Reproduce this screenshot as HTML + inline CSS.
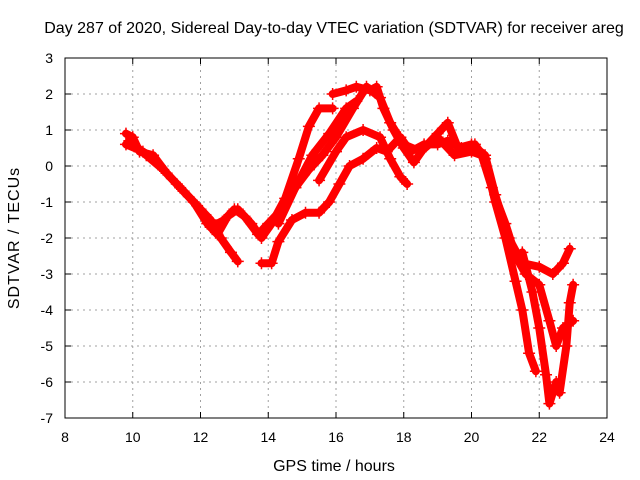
<!DOCTYPE html>
<html><head><meta charset="utf-8"><style>
body{margin:0;background:#fff}
svg{display:block;font-family:"Liberation Sans",sans-serif}
</style></head><body>
<svg id="chart" width="640" height="480">
<text x="334" y="33" font-size="16" text-anchor="middle">Day 287 of 2020, Sidereal Day-to-day VTEC variation (SDTVAR) for receiver areg</text>
<text x="334" y="471" font-size="16" text-anchor="middle">GPS time / hours</text>
<text transform="translate(19,238) rotate(-90)" font-size="16" text-anchor="middle" letter-spacing="1">SDTVAR / TECUs</text>
<g id="grid"></g><g id="ticks"></g><g id="marks"></g>
<rect x="65" y="58" width="542" height="360" fill="none" stroke="#000" stroke-width="1"/>
</svg>
<script>
const xTicks=[8,10,12,14,16,18,20,22,24];
const yTicks=[3,2,1,0,-1,-2,-3,-4,-5,-6,-7];
const s1h=[9.8,10.0,10.2,10.6,11.0,11.5,12.0,12.3,12.6,12.9,13.1];
const s1v=[0.9,0.8,0.4,0.3,-0.2,-0.7,-1.2,-1.5,-2.0,-2.4,-2.65];
const s2h=[9.8,10.3,10.8,11.3,11.8,12.2,12.5,12.8,13.1,13.5,13.8,14.1,14.5,14.9,15.2,15.5,15.9];
const s2v=[0.6,0.4,0.0,-0.5,-1.0,-1.6,-1.9,-1.4,-1.2,-1.6,-2.0,-1.6,-0.9,0.2,1.1,1.6,1.6];
const s3h=[9.9,10.4,10.9,11.4,11.9,12.3,12.7,13.0,13.3,13.7,14.0,14.4,14.8,15.2,15.6,16.0,16.5,16.9,17.3,17.6,18.0,18.5,19.0,19.5,20.0,20.3,20.6,21.0,21.3,21.6,22.0,22.3,22.5,22.7,23.0];
const s3v=[0.7,0.3,-0.1,-0.6,-1.1,-1.7,-1.5,-1.2,-1.4,-1.9,-1.6,-1.2,-0.6,-0.1,0.3,0.8,1.6,2.2,1.9,1.2,0.6,0.4,0.8,0.3,0.4,0.3,-0.6,-1.6,-2.5,-3.0,-3.3,-4.3,-5.0,-4.5,-4.3];
const s4h=[13.8,14.1,14.3,14.7,15.1,15.5,15.8,16.1,16.4,16.8,17.2,17.5,17.9,18.2,18.6,19.0,19.3,19.7,20.1,20.4,20.7,21.0,21.3,21.5,21.7,21.9];
const s4v=[-2.7,-2.7,-2.1,-1.5,-1.3,-1.3,-1.0,-0.5,0.0,0.2,0.5,0.4,0.8,0.4,0.6,0.6,0.7,0.5,0.6,0.2,-1.0,-2.0,-3.2,-4.0,-5.2,-5.7];
const s5h=[15.9,16.3,16.6,17.0,17.2,17.4,17.7,18.0,18.3,18.6,19.0,19.3,19.6,20.0,20.4,20.7,21.1,21.5,22.0,22.4,22.7,22.9];
const s5v=[2.0,2.1,2.2,2.1,2.2,1.6,1.0,0.5,0.1,0.5,0.9,1.2,0.5,0.6,0.3,-0.8,-2.0,-2.7,-2.8,-3.0,-2.7,-2.3];
const s6h=[14.3,14.8,15.3,15.8,16.3,16.6];
const s6v=[-1.6,-0.6,0.3,0.9,1.6,1.8];
const s7h=[15.5,16.0,16.3,16.8,17.3,17.6,17.9,18.1];
const s7v=[-0.4,0.4,0.8,1.0,0.8,0.2,-0.3,-0.5];
const s8h=[21.5,21.8,22.0,22.2,22.3,22.5,22.6,22.8,22.9,23.0];
const s8v=[-2.4,-3.5,-4.5,-5.8,-6.6,-6.0,-6.3,-5.0,-3.8,-3.3];
const series=[[s1h,s1v],[s2h,s2v],[s3h,s3v],[s4h,s4v],[s5h,s5v],[s6h,s6v],[s7h,s7v],[s8h,s8v]];
const X=h=>65+(h-8)*542/16;
const Y=v=>58+(3-v)*36;
const NS="http://www.w3.org/2000/svg";
function mk(t,a,p){const e=document.createElementNS(NS,t);for(const k in a)e.setAttribute(k,a[k]);p.appendChild(e);return e;}
const grid=document.getElementById('grid'),ticks=document.getElementById('ticks'),marks=document.getElementById('marks');
xTicks.forEach(t=>{
  if(t>8&&t<24){const g=mk('line',{x1:X(t),x2:X(t),y1:58,y2:418,stroke:'#a0a0a0','stroke-dasharray':'2,4'},grid);
  
  }
  mk('line',{x1:X(t),x2:X(t),y1:418,y2:412,stroke:'#000'},ticks);
  mk('line',{x1:X(t),x2:X(t),y1:58,y2:64,stroke:'#000'},ticks);
  const l=mk('text',{x:X(t),y:442,'font-size':14,'text-anchor':'middle'},ticks);l.textContent=t;
  
  
});
yTicks.forEach(t=>{
  if(t<3&&t>-7){const g=mk('line',{x1:65,x2:607,y1:Y(t),y2:Y(t),stroke:'#a0a0a0','stroke-dasharray':'2,4'},grid);
  
  }
  mk('line',{x1:65,x2:71,y1:Y(t),y2:Y(t),stroke:'#000'},ticks);
  mk('line',{x1:607,x2:601,y1:Y(t),y2:Y(t),stroke:'#000'},ticks);
  const l=mk('text',{x:53,y:Y(t)+5,'font-size':14,'text-anchor':'end'},ticks);l.textContent=t;
  
  
});
series.forEach(([hs,vs],i)=>{
  const pts=hs.map((h,j)=>X(h)+','+Y(vs[j])).join(' ');
  const pl=mk('polyline',{points:pts,fill:'none',stroke:'#ff0000','stroke-width':8,'stroke-linejoin':'round','stroke-linecap':'round'},marks);
  
  
  hs.forEach((h,j)=>{
    const x=X(h),y=Y(vs[j]);
    const p=mk('path',{d:`M${x-6},${y}h12M${x},${y-6}v12`,stroke:'#ff0000','stroke-width':1.5},marks);
    
    
  });
});
</script>
</body></html>
